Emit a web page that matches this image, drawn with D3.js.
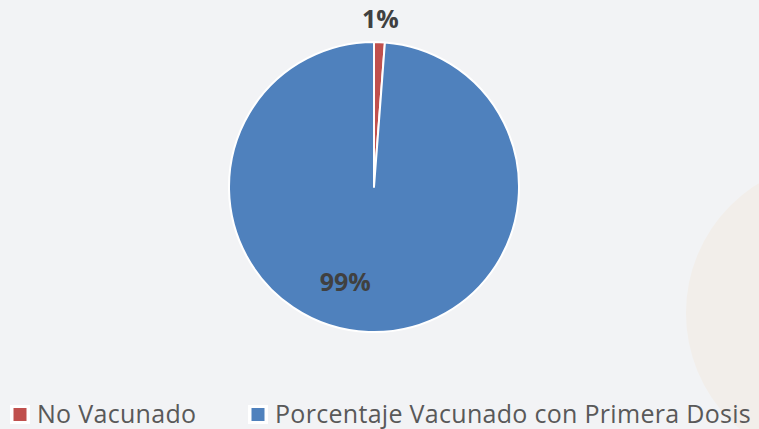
<!DOCTYPE html>
<html>
<head>
<meta charset="utf-8">
<script src="https://cdn.jsdelivr.net/npm/d3@7"></script>
<style>
  html, body { margin: 0; padding: 0; background: #f2f3f5; }
  svg { display: block; }
</style>
</head>
<body>
<svg id="chart" width="759" height="429"></svg>
<script>
// data
var categories = ["No Vacunado", "Porcentaje Vacunado con Primera Dosis"];
var values = [1.2, 98.8];
var labels = ["1%", "99%"];
var colors = ["#c0504d", "#4f81bd"];

var W = 759, H = 429;
var cx = 374, cy = 187, radius = 145;
var font = "'Open Sans', 'Noto Sans', sans-serif";

var svg = d3.select("#chart");

svg.append("rect")
  .attr("width", W).attr("height", H)
  .attr("fill", "#f2f3f5");

// faint decorative circle at the right edge
svg.append("circle")
  .attr("cx", 838).attr("cy", 313).attr("r", 152)
  .attr("fill", "#f2eeea");

var pie = d3.pie().sort(null).value(function(d) { return d; });
var arcs = pie(values);
var arc = d3.arc().innerRadius(0).outerRadius(radius);

var g = svg.append("g").attr("transform", "translate(" + cx + "," + cy + ")");

g.selectAll("path.slice")
  .data(arcs)
  .enter().append("path")
  .attr("class", "slice")
  .attr("d", arc)
  .attr("fill", function(d, i) { return colors[i]; })
  .attr("stroke", "#ffffff")
  .attr("stroke-width", 2)
  .attr("stroke-linejoin", "round");

// label positions: small slice outside, big slice inside (nudged left like excel)
var outerLab = d3.arc().innerRadius(radius + 24).outerRadius(radius + 24);
var innerLab = d3.arc().innerRadius(radius * 0.68).outerRadius(radius * 0.68);
var nudge = [[0, 0], [-25, -5]];

g.selectAll("text.lab")
  .data(arcs)
  .enter().append("text")
  .attr("class", "lab")
  .attr("transform", function(d, i) {
    var p = (i === 0 ? outerLab : innerLab).centroid(d);
    return "translate(" + (p[0] + nudge[i][0]) + "," + (p[1] + nudge[i][1]) + ")";
  })
  .attr("text-anchor", "middle")
  .attr("dominant-baseline", "central")
  .attr("font-family", font)
  .attr("font-weight", "bold")
  .attr("font-size", 25)
  .attr("fill", "#404040")
  .text(function(d, i) { return labels[i]; });

// legend
var legendX = [10, 248];
var item = svg.append("g").selectAll("g.item")
  .data(categories)
  .enter().append("g")
  .attr("class", "item")
  .attr("transform", function(d, i) { return "translate(" + legendX[i] + ",405)"; });

item.append("rect")
  .attr("width", 20).attr("height", 19)
  .attr("fill", "#ffffff");

item.append("rect")
  .attr("x", 3.5).attr("y", 3)
  .attr("width", 13).attr("height", 13)
  .attr("fill", function(d, i) { return colors[i]; });

item.append("text")
  .attr("x", 27).attr("y", 18)
  .attr("font-family", font)
  .attr("font-size", 25)
  .attr("letter-spacing", 0.3)
  .attr("fill", "#595959")
  .text(function(d) { return d; });
</script>
</body>
</html>
